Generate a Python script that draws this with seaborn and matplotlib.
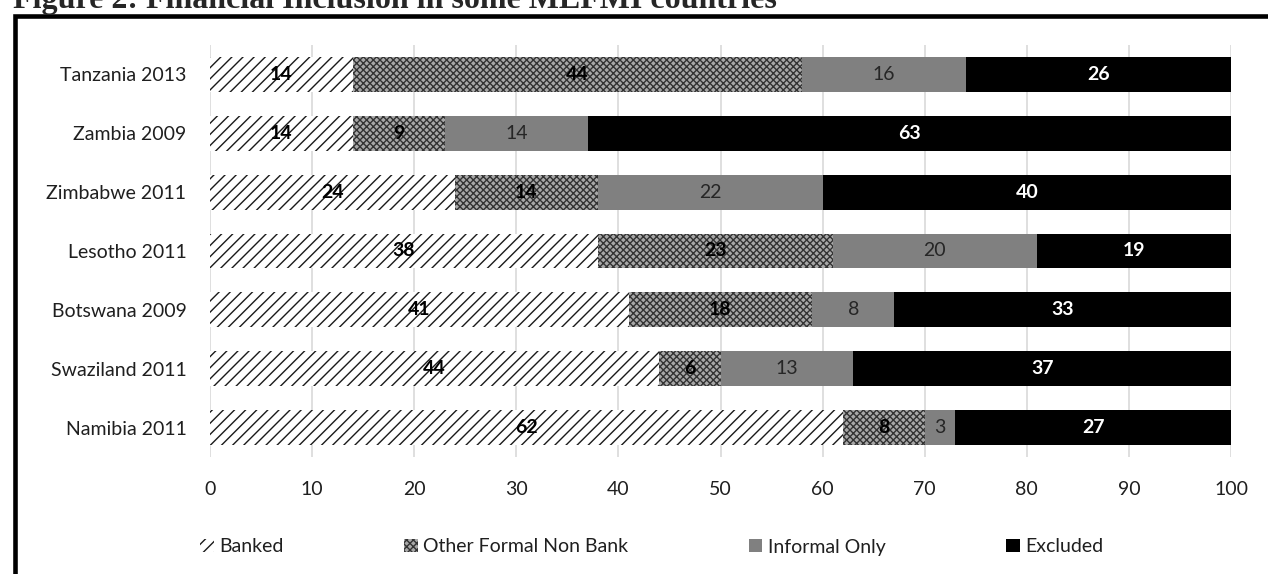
import numpy as np
import pandas as pd
import matplotlib
matplotlib.use('Agg')
import matplotlib.pyplot as plt
from matplotlib.patches import Patch, Rectangle
import seaborn as sns

countries = ['Tanzania 2013', 'Zambia 2009', 'Zimbabwe 2011', 'Lesotho 2011',
             'Botswana 2009', 'Swaziland 2011', 'Namibia 2011']
banked = [14, 14, 24, 38, 41, 44, 62]
other_formal = [44, 9, 14, 23, 18, 6, 8]
informal = [16, 14, 22, 20, 8, 13, 3]
excluded = [26, 63, 40, 19, 33, 37, 27]
series_names = ['Banked', 'Other Formal Non Bank', 'Informal Only', 'Excluded']
x_ticks = [0, 10, 20, 30, 40, 50, 60, 70, 80, 90, 100]

df = pd.DataFrame({'country': countries, 'Banked': banked,
                   'Other Formal Non Bank': other_formal,
                   'Informal Only': informal, 'Excluded': excluded})
cum = df[series_names].cumsum(axis=1)

sns.set_theme(style='white')
plt.rcParams['font.family'] = ['Lato', 'DejaVu Sans']
plt.rcParams['hatch.linewidth'] = 1.0

# face, hatch colour, hatch pattern, label colour, label weight
styles = {
    'Banked': ('white', '#1a1a1a', '///', 'black', 'bold'),
    'Other Formal Non Bank': ('#a8a8a8', '#333333', 'xxxxx', 'black', 'bold'),
    'Informal Only': ('#808080', '#808080', None, '#262626', 'normal'),
    'Excluded': ('black', 'black', None, 'white', 'bold'),
}

fig = plt.figure(figsize=(12.68, 5.74), dpi=100)
ax = fig.add_axes([210 / 1268, 1 - 457 / 574, 1021 / 1268, 412 / 574])

# stacked bars: draw cumulative totals from the longest down
for name in series_names[::-1]:
    face, hcol, hatch, _, _ = styles[name]
    sns.barplot(x=cum[name], y=df['country'], orient='y', color=face,
                saturation=1, width=0.59, ax=ax, zorder=3)
    for p in ax.containers[-1]:
        p.set_facecolor(face)
        p.set_edgecolor(hcol)
        p.set_linewidth(0)
        if hatch:
            p.set_hatch(hatch)

# value labels in the middle of each segment
for name in series_names:
    _, _, _, tcol, weight = styles[name]
    for i in range(len(countries)):
        mid = cum[name][i] - df[name][i] / 2
        ax.text(mid, i, str(df[name][i]), ha='center', va='center',
                fontsize=14, color=tcol, fontweight=weight, zorder=5)

ax.set_xlim(0, 100)
ax.set_ylim(len(countries) - 0.5, -0.5)
ax.set_xticks(x_ticks)
ax.grid(axis='x', color='#d9d9d9', linewidth=1.2, zorder=0)
ax.set_axisbelow(True)
for s in ax.spines.values():
    s.set_visible(False)
ax.tick_params(axis='both', length=0, labelsize=14, labelcolor='#1f1f1f')
ax.tick_params(axis='y', pad=17)
ax.tick_params(axis='x', pad=17)
ax.set_xlabel('')
ax.set_ylabel('')

handles = []
for name in series_names:
    face, hcol, hatch, _, _ = styles[name]
    handles.append(Patch(facecolor=face, edgecolor=hcol, hatch=hatch,
                         linewidth=0, label=name))
fig.legend(handles=handles, loc='center', ncol=4,
           bbox_to_anchor=(652 / 1268, 1 - 547 / 574), frameon=False,
           fontsize=14, handlelength=0.68, handleheight=0.68,
           handletextpad=0.3, columnspacing=6.2, labelcolor='#1f1f1f')

# caption cut off at the top, and the frame around the chart
fig.text(13 / 1268, 1 - 8 / 574, 'Figure 2: Financial Inclusion in some MEFMI countries',
         family='Liberation Serif', fontweight='bold', fontsize=23,
         ha='left', va='baseline')
fig.patches.append(Rectangle((15 / 1268, -0.2), 2, 1.2 - 16.5 / 574,
                             transform=fig.transFigure, fill=False,
                             edgecolor='black', linewidth=3.3))

fig.savefig('out.png', dpi=100)
